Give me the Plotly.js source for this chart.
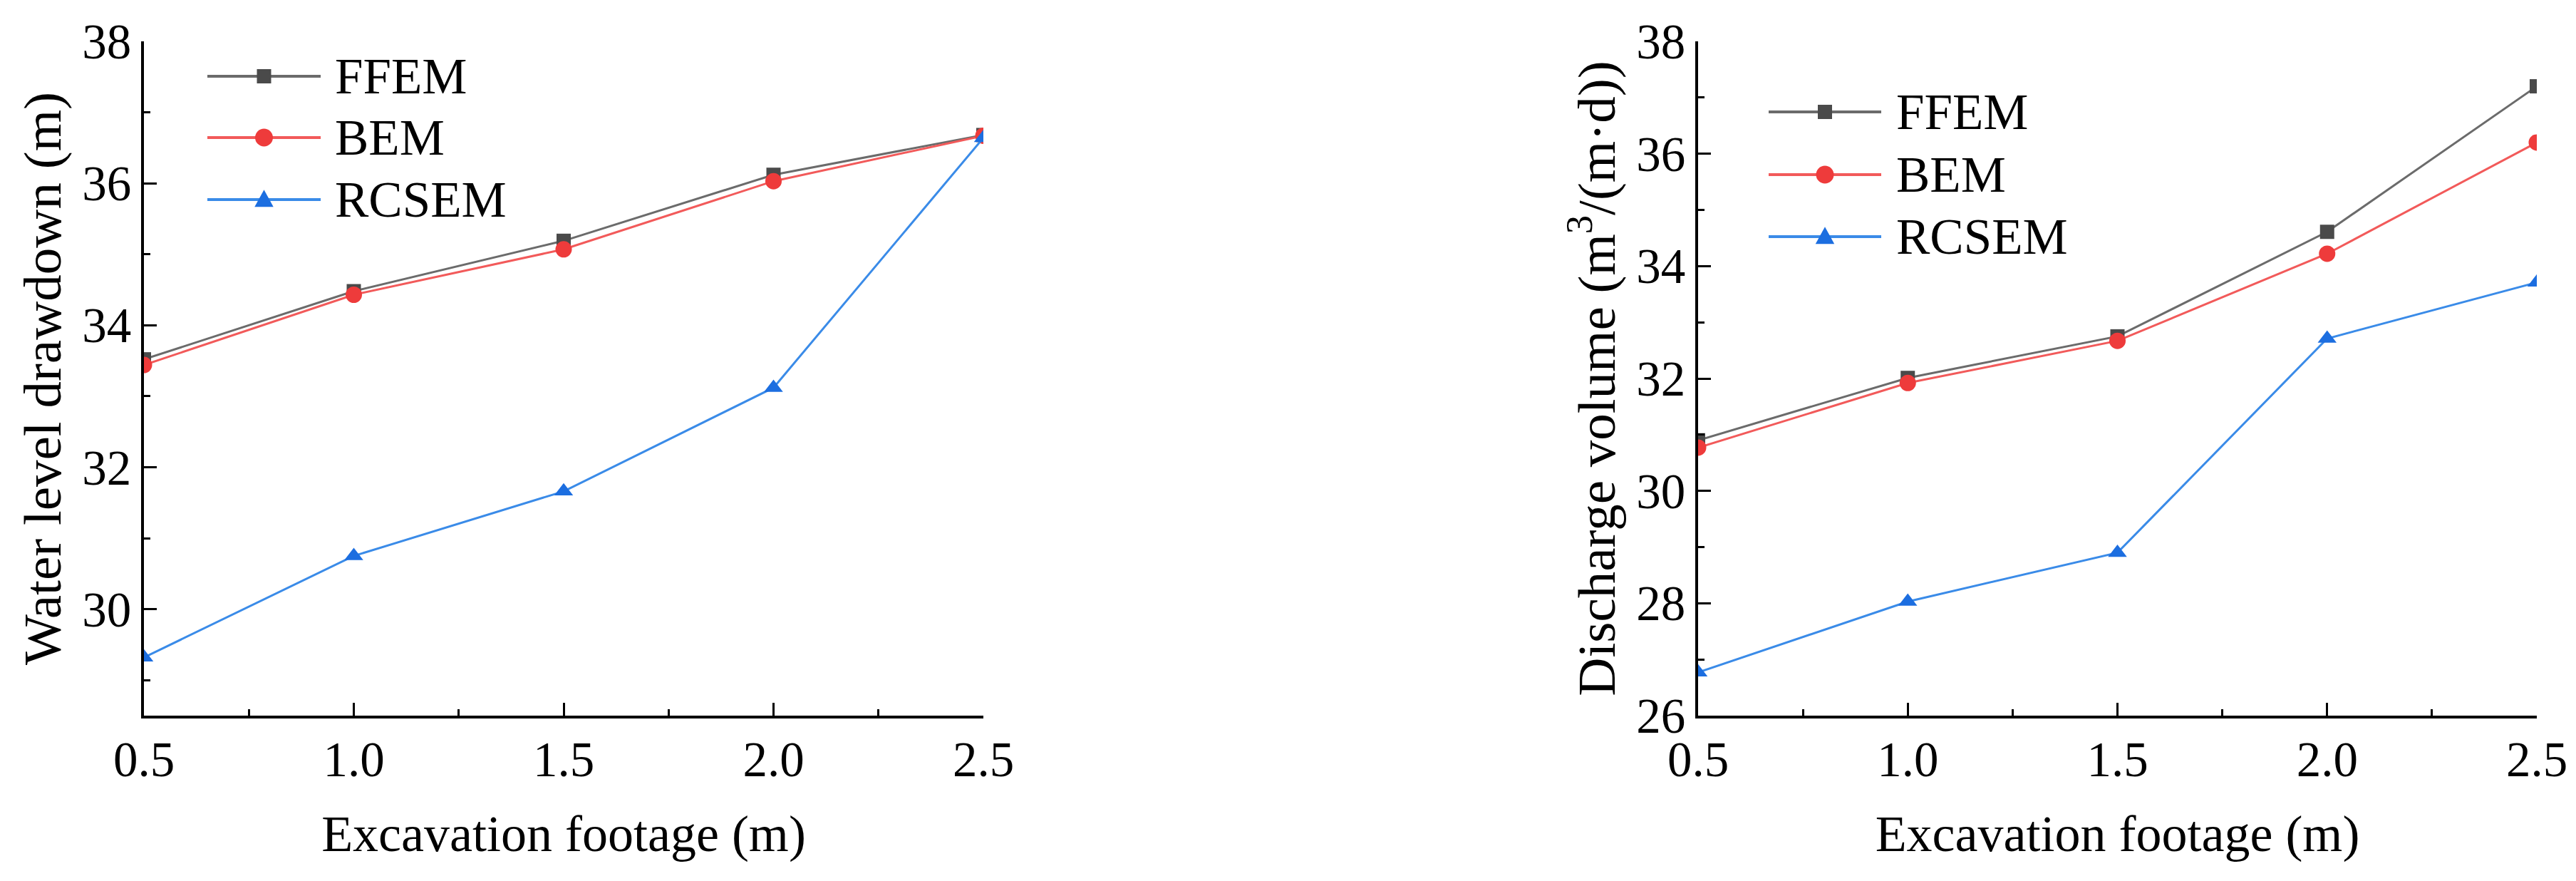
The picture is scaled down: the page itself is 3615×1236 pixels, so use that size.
<!DOCTYPE html>
<html>
<head>
<meta charset="utf-8">
<script src="https://cdn.plot.ly/plotly-3.0.1.min.js"></script>
<style>html,body{margin:0;padding:0;background:#fff}</style>
</head>
<body>
<div id="plot" style="width:3615px;height:1236px"></div>
<script>
// excavation footage (m)
const footage = [0.5, 1.0, 1.5, 2.0, 2.5];

// water level drawdown (m)
const drawdownFFEM = [33.52, 34.48, 35.19, 36.12, 36.68];
const drawdownBEM = [33.44, 34.43, 35.07, 36.03, 36.67];
const drawdownRCSEM = [29.32, 30.75, 31.66, 33.12, 36.64];

// discharge volume (m3/(m.d))
const dischargeFFEM = [30.90, 32.01, 32.75, 34.61, 37.20];
const dischargeBEM = [30.77, 31.92, 32.67, 34.22, 36.20];
const dischargeRCSEM = [26.77, 28.03, 28.90, 32.71, 33.71];

const methods = ["FFEM", "BEM", "RCSEM"];

const W = 3615, H = 1236;
const font = "Liberation Serif, Times New Roman, serif";

// line colour, marker colour, symbol
const styles = {
    FFEM: { line: "#6b6b6b", marker: "#4a4a4a", symbol: "square", size: 20 },
    BEM: { line: "#f25a5a", marker: "#ee3b3b", symbol: "circle", size: 23 },
    RCSEM: { line: "#3a8be8", marker: "#1c6ee0", symbol: "triangle-up", size: 23 }
};

function series(name, y, xa, ya) {
    const s = styles[name];
    return {
        type: "scatter",
        mode: "lines+markers",
        name: name,
        x: footage,
        y: y,
        xaxis: xa,
        yaxis: ya,
        showlegend: false,
        line: { color: s.line, width: 3 },
        marker: { color: s.marker, symbol: s.symbol, size: s.size }
    };
}

const data = [
    series("FFEM", drawdownFFEM, "x", "y"),
    series("BEM", drawdownBEM, "x", "y"),
    series("RCSEM", drawdownRCSEM, "x", "y"),
    series("FFEM", dischargeFFEM, "x2", "y2"),
    series("BEM", dischargeBEM, "x2", "y2"),
    series("RCSEM", dischargeRCSEM, "x2", "y2")
];

const axisBase = {
    showline: true,
    linewidth: 4,
    linecolor: "black",
    showgrid: false,
    zeroline: false,
    ticks: "inside",
    ticklen: 18,
    tickwidth: 3,
    tickcolor: "black",
    tickfont: { family: font, size: 69, color: "black" }
};

function xAxis(domain, anchor) {
    return Object.assign({}, axisBase, {
        domain: domain,
        anchor: anchor,
        range: [0.5, 2.5],
        tick0: 0.5,
        dtick: 0.5,
        tickformat: ".1f",
        ticklabelstandoff: -2,
        minor: { tick0: 0.5, dtick: 0.25, ticks: "inside", ticklen: 9, tickwidth: 3, tickcolor: "black", showgrid: false },
        title: { text: "Excavation footage (m)", font: { family: font, size: 72, color: "black" }, standoff: 42 }
    });
}

function yAxis(domain, anchor, range, title) {
    return Object.assign({}, axisBase, {
        domain: domain,
        anchor: anchor,
        range: range,
        tick0: 0,
        dtick: 2,
        minor: { tick0: 0, dtick: 1, ticks: "inside", ticklen: 9, tickwidth: 3, tickcolor: "black", showgrid: false },
        title: { text: title, font: { family: font, size: 75, color: "black" }, standoff: 6 }
    });
}

const yDom = [1 - 1004 / H, 1 - 58 / H];

// hand-drawn legends (longer sample lines than plotly's own legend)
const legends = [
    { x0: 291, x1: 450, rows: [107, 193, 280], text: 468 },
    { x0: 2482, x1: 2640, rows: [157, 245, 332], text: 2659 }
];
const shapes = [];
const annotations = [];
legends.forEach(lg => {
    methods.forEach((m, i) => {
        const s = styles[m];
        const yc = 1 - lg.rows[i] / H;
        const xc = (lg.x0 + lg.x1) / 2 / W;
        shapes.push({ type: "line", xref: "paper", yref: "paper", x0: lg.x0 / W, x1: lg.x1 / W, y0: yc, y1: yc,
            line: { color: s.line, width: 4 } });
        const r = s.size / 2;
        const common = { xref: "paper", yref: "paper", xsizemode: "pixel", ysizemode: "pixel",
            xanchor: xc, yanchor: yc, fillcolor: s.marker, line: { width: 0 } };
        if (s.symbol === "square") {
            shapes.push(Object.assign({ type: "rect", x0: -r, x1: r, y0: -r, y1: r }, common));
        } else if (s.symbol === "circle") {
            shapes.push(Object.assign({ type: "circle", x0: -r - 1, x1: r + 1, y0: -r - 1, y1: r + 1 }, common));
        } else {
            const h = r * 1.15;
            shapes.push(Object.assign({ type: "path", path: `M${-h},${-r * 0.9} L${h},${-r * 0.9} L0,${r * 1.2} Z` }, common));
        }
        annotations.push({ xref: "paper", yref: "paper", x: lg.text / W, y: yc, xanchor: "left", yanchor: "middle",
            text: m, showarrow: false, font: { family: font, size: 71, color: "black" } });
    });
});

const layout = {
    width: W,
    height: H,
    margin: { l: 0, r: 0, t: 0, b: 0 },
    paper_bgcolor: "white",
    plot_bgcolor: "white",
    xaxis: xAxis([202 / W, 1380 / W], "y"),
    yaxis: yAxis(yDom, "x", [28.5, 38], "Water level drawdown (m)"),
    xaxis2: xAxis([2383 / W, 3560 / W], "y2"),
    yaxis2: yAxis(yDom, "x2", [26, 38], "Discharge volume (m<sup>3</sup>/(m·d))"),
    shapes: shapes,
    annotations: annotations
};

Plotly.newPlot("plot", data, layout, { staticPlot: true });
</script>
</body>
</html>
